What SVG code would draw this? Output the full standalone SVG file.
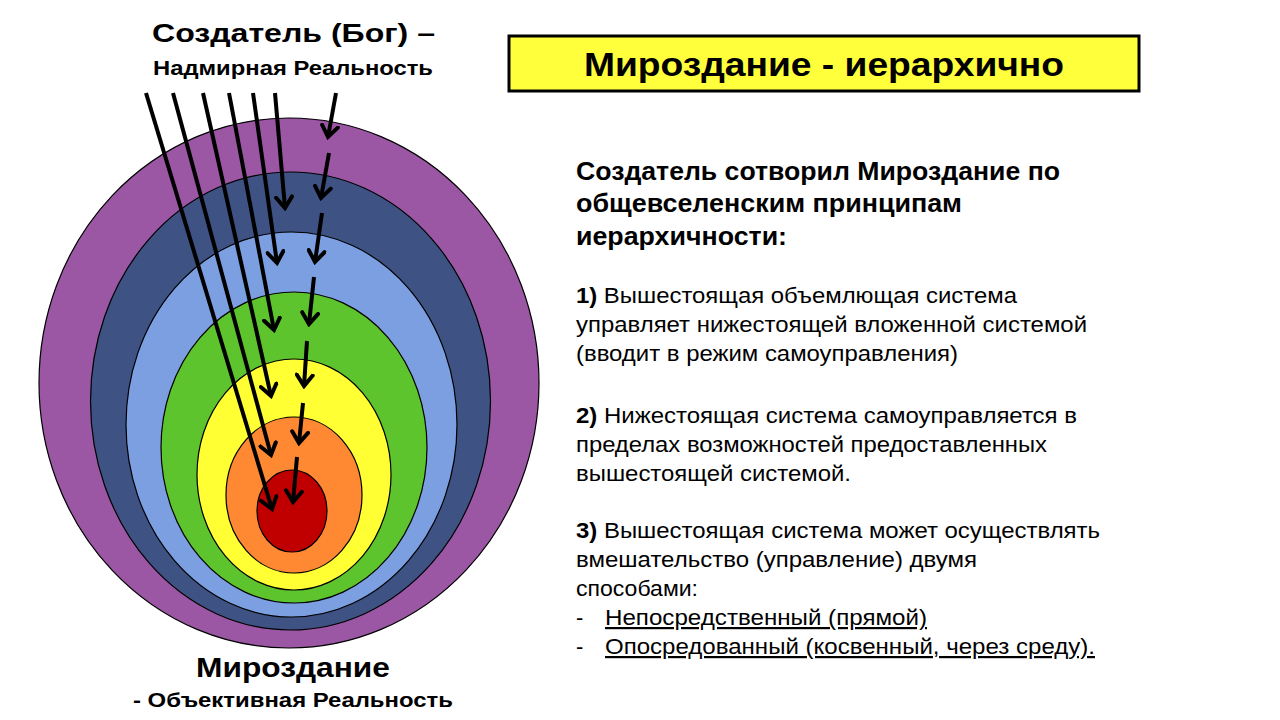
<svg xmlns="http://www.w3.org/2000/svg" width="1280" height="720" viewBox="0 0 1280 720">
<style>
.t{font-family:"Liberation Sans",Arial,sans-serif;fill:#000}
.b{font-weight:bold}
.ring{stroke:#000;stroke-width:1.2}
.arr{stroke:#000;stroke-width:4;fill:none;marker-end:url(#ah)}
.body{font-size:22px}
</style>
<defs>
<marker id="ah" markerUnits="userSpaceOnUse" viewBox="0 0 16 20" refX="13" refY="10" markerWidth="16" markerHeight="20" orient="auto">
<path d="M2,2 L13,10 L2,18" fill="none" stroke="#000" stroke-width="4" stroke-linecap="round" stroke-linejoin="miter"/>
</marker>
</defs>
<rect width="1280" height="720" fill="#fff"/>

<g id="rings">
<ellipse class="ring" cx="289" cy="383" rx="250" ry="265" fill="#9B56A4"/>
<ellipse class="ring" cx="290.5" cy="401" rx="200" ry="229" fill="#3E5283"/>
<ellipse class="ring" cx="291.5" cy="424.5" rx="165.5" ry="192.5" fill="#7B9FE1"/>
<ellipse class="ring" cx="294" cy="447.5" rx="133" ry="155.5" fill="#5EC42D"/>
<ellipse class="ring" cx="294" cy="474.5" rx="97" ry="115.5" fill="#FFFF33"/>
<ellipse class="ring" cx="294" cy="495" rx="68" ry="78" fill="#FF8833"/>
<ellipse class="ring" cx="292" cy="511" rx="35" ry="41" fill="#C00000"/>
</g>

<g id="connectors">
<line class="arr" x1="146" y1="93" x2="272" y2="509"/>
<line class="arr" x1="173" y1="93" x2="271" y2="455"/>
<line class="arr" x1="203" y1="93" x2="271" y2="396"/>
<line class="arr" x1="229" y1="93" x2="274" y2="330"/>
<line class="arr" x1="253" y1="93" x2="277" y2="263"/>
<line class="arr" x1="275" y1="93" x2="285" y2="208"/>
<line class="arr" x1="336" y1="93" x2="328" y2="137"/>
<line class="arr" x1="329" y1="153" x2="321" y2="198"/>
<line class="arr" x1="322" y1="213" x2="315" y2="262"/>
<line class="arr" x1="314" y1="277" x2="309" y2="324"/>
<line class="arr" x1="307" y1="341" x2="304" y2="386"/>
<line class="arr" x1="303" y1="403" x2="299" y2="443"/>
<line class="arr" x1="297" y1="457" x2="293" y2="502"/>
</g>

<g id="creator-label">
<text class="t b" x="293.5" y="42" font-size="25" text-anchor="middle" textLength="283" lengthAdjust="spacingAndGlyphs">Создатель (Бог) –</text>
<text class="t b" x="293" y="75" font-size="21" text-anchor="middle" textLength="280" lengthAdjust="spacingAndGlyphs">Надмирная Реальность</text>
</g>

<g id="universe-label">
<text class="t b" x="293" y="677" font-size="28" text-anchor="middle" textLength="194" lengthAdjust="spacingAndGlyphs">Мироздание</text>
<text class="t b" x="293" y="707" font-size="21" text-anchor="middle" textLength="320" lengthAdjust="spacingAndGlyphs">- Объективная Реальность</text>
</g>

<g id="title">
<rect x="509" y="36" width="630" height="55" fill="#FFFF3C" stroke="#000" stroke-width="3"/>
<text class="t b" x="824" y="76" font-size="34" text-anchor="middle" textLength="480" lengthAdjust="spacingAndGlyphs">Мироздание - иерархично</text>
</g>

<g id="description">
<text class="t b" x="576" y="180" font-size="25" textLength="484" lengthAdjust="spacingAndGlyphs">Создатель сотворил Мироздание по</text>
<text class="t b" x="576" y="212" font-size="25" textLength="386" lengthAdjust="spacingAndGlyphs">общевселенским принципам</text>
<text class="t b" x="576" y="245" font-size="25" textLength="211" lengthAdjust="spacingAndGlyphs">иерархичности:</text>

<text class="t body" x="576" y="303" textLength="441" lengthAdjust="spacingAndGlyphs"><tspan class="b">1)</tspan> Вышестоящая объемлющая система</text>
<text class="t body" x="576" y="332" textLength="511" lengthAdjust="spacingAndGlyphs">управляет нижестоящей вложенной системой</text>
<text class="t body" x="576" y="361" textLength="382" lengthAdjust="spacingAndGlyphs">(вводит в режим самоуправления)</text>

<text class="t body" x="576" y="423" textLength="501" lengthAdjust="spacingAndGlyphs"><tspan class="b">2)</tspan> Нижестоящая система самоуправляется в</text>
<text class="t body" x="576" y="452" textLength="471" lengthAdjust="spacingAndGlyphs">пределах возможностей предоставленных</text>
<text class="t body" x="576" y="481" textLength="275" lengthAdjust="spacingAndGlyphs">вышестоящей системой.</text>

<text class="t body" x="576" y="538" textLength="524" lengthAdjust="spacingAndGlyphs"><tspan class="b">3)</tspan> Вышестоящая система может осуществлять</text>
<text class="t body" x="576" y="567" textLength="401" lengthAdjust="spacingAndGlyphs">вмешательство (управление) двумя</text>
<text class="t body" x="576" y="596" textLength="122" lengthAdjust="spacingAndGlyphs">способами:</text>

<text class="t body" x="576" y="625">-</text>
<text class="t body" x="605" y="625" text-decoration="underline" textLength="322" lengthAdjust="spacingAndGlyphs">Непосредственный (прямой)</text>
<text class="t body" x="576" y="654">-</text>
<text class="t body" x="605" y="654" text-decoration="underline" textLength="490" lengthAdjust="spacingAndGlyphs">Опосредованный (косвенный, через среду).</text>
</g>
</svg>
